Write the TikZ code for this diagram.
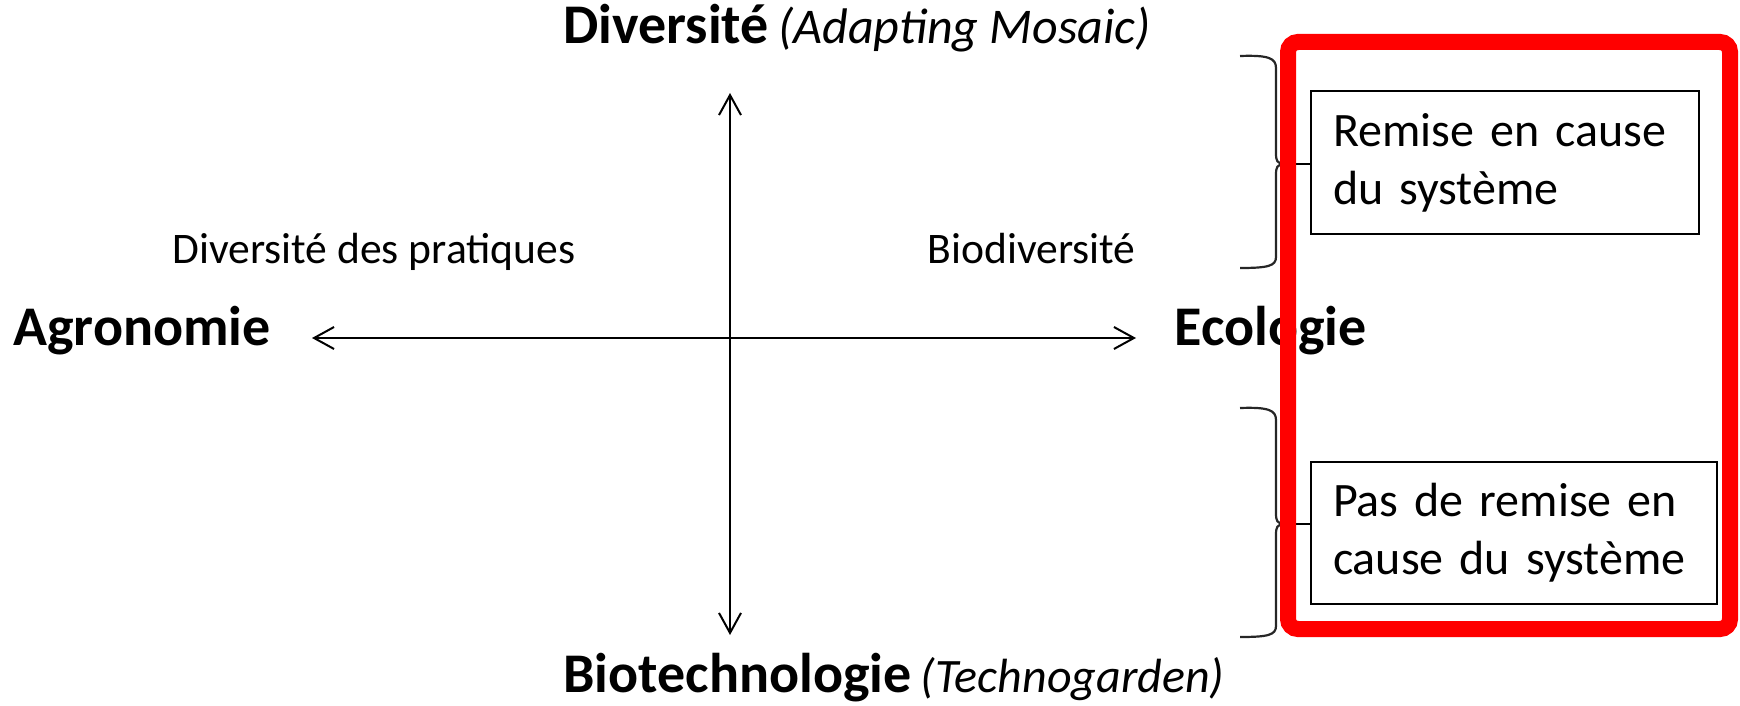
\documentclass[tikz,border=0pt]{standalone}
\usepackage{fontspec}
\setmainfont{Carlito}
\usetikzlibrary{arrows.meta}
\begin{document}
\begin{tikzpicture}[x=0.5pt,y=-0.5pt,
  axis/.style={line width=1pt, {Straight Barb[length=10pt,width=11pt]}-{Straight Barb[length=10pt,width=11pt]}},
  title/.style={inner sep=0pt, font=\fontsize{28}{32}\selectfont},
  label/.style={inner sep=0pt, font=\fontsize{21.8}{26}\selectfont},
  choice/.style={draw, line width=1pt, inner xsep=11pt, inner ysep=0pt, align=left, anchor=north west, font=\fontsize{24}{29}\selectfont},
  bracepath/.style={line width=1.1pt, draw=black!85},
  frame/.style={draw=red, line width=8pt, rounded corners=5pt}]
\useasboundingbox (0,0) rectangle (1740,706);
% axes
\coordinate (up) at (730,93);
\coordinate (down) at (730,635);
\coordinate (left) at (312,338);
\coordinate (right) at (1136,338);
\draw[axis] (down) -- (up);
\draw[axis] (left) -- (right);
% labels
\node[title, anchor=base west] (top) at (563,44) {\textbf{Diversité}\,{\fontsize{25}{30}\selectfont\textit{(Adapting Mosaic)}}};
\node[title, anchor=base west] (bottom) at (563,692) {\textbf{Biotechnologie}\,{\fontsize{24}{29}\selectfont\textit{(Technogarden)}}};
\node[title, anchor=base west] (agro) at (13,345) {\textbf{Agronomie}};
\node[title, anchor=base west] (eco) at (1174,345) {\textbf{Ecologie}};
\node[label, anchor=base west] (pratiques) at (172,263) {Diversité des pratiques};
\node[label, anchor=base east] (biodiv) at (1136,263) {Biodiversité};
% boxes
\node[choice, text width=172pt, minimum height=71.5pt] (box1) at (1310,90) {Remise en cause\\du système};
\node[choice, text width=181pt, minimum height=71pt] (box2) at (1310,461) {Pas de remise en\\cause du système};
% braces
\coordinate (b1tip) at (1281,164);
\coordinate (b2tip) at (1281,524);
\draw[bracepath] (1240,56) .. controls (1268,55) and (1276,58) .. (1276,68) -- (1276,154)
  .. controls (1276,161) and (1278,163) .. (b1tip)
  .. controls (1278,165) and (1276,167) .. (1276,174) -- (1276,257)
  .. controls (1276,266) and (1268,268) .. (1240,268);
\draw[bracepath] (1240,408) .. controls (1268,407) and (1276,410) .. (1276,420) -- (1276,514)
  .. controls (1276,521) and (1278,523) .. (b2tip)
  .. controls (1278,525) and (1276,527) .. (1276,534) -- (1276,626)
  .. controls (1276,635) and (1268,637) .. (1240,637);
\draw[line width=1pt] (b1tip) -- (b1tip -| box1.west);
\draw[line width=1pt] (b2tip) -- (b2tip -| box2.west);
% red frame
\draw[frame] (1288,42) rectangle (1730,629);
\end{tikzpicture}
\end{document}
